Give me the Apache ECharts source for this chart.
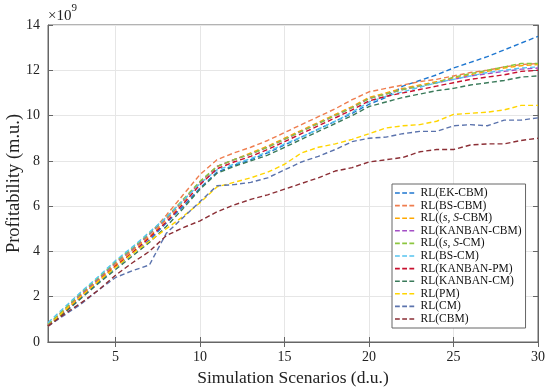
<!DOCTYPE html>
<html>
<head>
<meta charset="utf-8">
<script src="https://cdn.jsdelivr.net/npm/echarts@6/dist/echarts.min.js"></script>
<style>html,body{margin:0;padding:0;background:#fff}#c{width:550px;height:390px}</style>
</head>
<body>
<div id="c"></div>
<script>
const scenarios = [1,2,3,4,5,6,7,8,9,10,11,12,13,14,15,16,17,18,19,20,21,22,23,24,25,26,27,28,29,30];
const xTicks = [5,10,15,20,25,30];
const yTicks = [0,2,4,6,8,10,12,14];
const seriesNames = ['RL(EK-CBM)','RL(BS-CBM)','RL((s, S)-CBM)','RL(KANBAN-CBM)','RL((s, S)-CM)','RL(BS-CM)','RL(KANBAN-PM)','RL(KANBAN-CM)','RL(PM)','RL(CM)','RL(CBM)'];
const seriesColors = ['#1f77d0','#ef7d4e','#ffa800','#a44fc6','#8cc63f','#55c4ef','#c8102e','#3a7a5a','#ffd500','#5b73ad','#8b2e35'];

const ekCbm = [0.72,1.35,2.0,2.65,3.3,3.9,4.5,5.25,6.0,6.8,7.5,7.8,8.05,8.35,8.7,9.05,9.4,9.75,10.1,10.5,10.8,11.3,11.55,11.8,12.1,12.35,12.6,12.9,13.2,13.5];
const bsCbm = [0.75,1.4,2.1,2.75,3.4,4.05,4.75,5.6,6.5,7.4,8.05,8.35,8.6,8.9,9.25,9.6,9.95,10.3,10.7,11.05,11.2,11.35,11.5,11.6,11.75,11.9,12.0,12.15,12.25,12.3];
const sSCbm = [0.75,1.42,2.1,2.75,3.45,4.05,4.65,5.4,6.2,7.05,7.75,8.05,8.35,8.65,9.0,9.35,9.7,10.05,10.4,10.8,11.0,11.2,11.35,11.5,11.65,11.8,11.95,12.1,12.2,12.25];
const kanbanCbm = [0.75,1.45,2.15,2.8,3.5,4.1,4.75,5.45,6.25,7.05,7.75,8.05,8.3,8.6,8.95,9.3,9.65,10.0,10.35,10.75,10.95,11.15,11.3,11.45,11.6,11.75,11.85,11.95,12.05,12.1];
const sSCm = [0.78,1.48,2.2,2.85,3.55,4.15,4.8,5.5,6.3,7.1,7.75,8.05,8.3,8.6,8.95,9.3,9.65,10.0,10.35,10.75,10.95,11.15,11.3,11.45,11.7,11.85,12.0,12.15,12.3,12.3];
const bsCm = [0.85,1.55,2.25,2.9,3.6,4.2,4.85,5.5,6.25,7.0,7.6,7.85,8.1,8.4,8.75,9.05,9.4,9.75,10.15,10.6,10.85,11.05,11.25,11.45,11.6,11.75,11.9,12.0,12.1,12.15];
const kanbanPm = [0.7,1.35,2.05,2.7,3.35,3.95,4.6,5.3,6.1,6.95,7.65,7.95,8.2,8.5,8.85,9.2,9.55,9.9,10.25,10.65,10.85,11.0,11.15,11.3,11.45,11.6,11.7,11.8,11.95,12.0];
const kanbanCm = [0.7,1.3,1.95,2.6,3.2,3.8,4.4,5.1,5.9,6.75,7.45,7.75,8.0,8.25,8.6,8.95,9.3,9.65,10.0,10.4,10.6,10.8,10.95,11.1,11.2,11.35,11.45,11.55,11.7,11.75];
const pm = [0.7,1.4,2.05,2.7,3.3,3.9,4.45,5.0,5.55,6.15,6.85,7.05,7.25,7.5,7.85,8.35,8.6,8.75,8.95,9.2,9.45,9.55,9.6,9.75,10.05,10.1,10.15,10.25,10.45,10.45];
const cm = [0.7,1.2,1.7,2.3,2.85,3.15,3.4,4.8,5.5,6.2,6.9,6.95,7.05,7.25,7.6,7.95,8.2,8.5,8.85,9.0,9.05,9.2,9.3,9.3,9.55,9.6,9.55,9.8,9.8,9.9];
const cbm = [0.7,1.25,1.75,2.3,2.95,3.5,4.0,4.7,5.05,5.35,5.75,6.05,6.3,6.5,6.75,7.0,7.25,7.55,7.7,7.95,8.05,8.15,8.4,8.5,8.5,8.7,8.75,8.75,8.9,9.0];

const seriesValues = [ekCbm,bsCbm,sSCbm,kanbanCbm,sSCm,bsCm,kanbanPm,kanbanCm,pm,cm,cbm];

const FONT = 'Liberation Serif';
const axisCol = '#666';
const dashIcon = 'path://M0,0h6v2h-6z M9,0h6v2h-6z M18,0h6v2h-6z';

const chart = echarts.init(document.getElementById('c'), null, {renderer:'canvas'});

const series = seriesNames.map((n,k)=>({
  name:n, type:'line', xAxisIndex:0, yAxisIndex:0,
  data: scenarios.map((x,i)=>[x, seriesValues[k][i]]),
  showSymbol:false, symbol:'none',
  lineStyle:{color:seriesColors[k], width:1.4, type:[5,3]},
  itemStyle:{color:seriesColors[k]},
  animation:false
}));

function legendFmt(name){
  if(name.indexOf('(s, S)')>=0){
    const rest = name.split('(s, S)')[1];
    return '{n|RL((}{i|s}{n|, }{i|S}{n|' + rest + '}';
  }
  return '{n|' + name + '}';
}

const baseAxis = {
  axisLine:{show:true, lineStyle:{color:axisCol, width:1}},
  axisTick:{show:true, inside:true, length:5, lineStyle:{color:axisCol}},
};

chart.setOption({
  animation:false,
  grid:{left:48, right:12, top:25, bottom:48, show:true, borderColor:axisCol, borderWidth:1, containLabel:false, outerBoundsMode:'none'},
  xAxis:[
    Object.assign({}, baseAxis, {
      type:'value', min:1, max:30, position:'bottom',
      axisTick:{show:true, inside:true, length:5, lineStyle:{color:axisCol}, customValues:xTicks},
      axisLabel:{customValues:xTicks, fontFamily:FONT, fontSize:14, color:'#222', margin:8},
      splitLine:{show:true, lineStyle:{color:'#e6e6e6', width:1}},
      name:'Simulation Scenarios (d.u.)', nameLocation:'middle', nameGap:27, nameMoveOverlap:false,
      nameTextStyle:{fontFamily:FONT, fontSize:17.5, color:'#222'}
    }),
    Object.assign({}, baseAxis, {
      type:'value', min:1, max:30, position:'top',
      axisTick:{show:true, inside:true, length:5, lineStyle:{color:axisCol}, customValues:xTicks},
      axisLabel:{show:false}, splitLine:{show:false}
    })
  ],
  yAxis:[
    Object.assign({}, baseAxis, {
      type:'value', min:0, max:14, interval:2, position:'left',
      axisLabel:{customValues:yTicks, fontFamily:FONT, fontSize:14, color:'#222', margin:8},
      splitLine:{show:true, lineStyle:{color:'#e6e6e6', width:1}},
      name:'Profitability (m.u.)', nameLocation:'middle', nameGap:24, nameMoveOverlap:false,
      nameTextStyle:{fontFamily:FONT, fontSize:18.5, color:'#222'}
    }),
    Object.assign({}, baseAxis, {
      type:'value', min:0, max:14, interval:2, position:'right',
      axisLabel:{show:false}, splitLine:{show:false}
    })
  ],
  legend:{
    orient:'vertical', left:392, top:184,
    backgroundColor:'#fff', borderColor:'#666', borderWidth:1, borderRadius:0,
    padding:[3,4,3,3], itemGap:0.6, itemWidth:22, itemHeight:1.6,
    icon:dashIcon,
    data:seriesNames,
    formatter:legendFmt,
    textStyle:{fontFamily:FONT, fontSize:11.5, color:'#111', lineHeight:12, rich:{
      n:{fontFamily:FONT, fontSize:11.5, color:'#111', lineHeight:12},
      i:{fontFamily:FONT, fontSize:11.5, fontStyle:'italic', color:'#111', lineHeight:12}
    }}
  },
  graphic:[{
    type:'text', left:48, top:3,
    style:{text:'{a|×10}{b|9}', rich:{
      a:{fontFamily:FONT, fontSize:15, fill:'#222', padding:[6,0,0,0]},
      b:{fontFamily:FONT, fontSize:11, fill:'#222', verticalAlign:'top', padding:[0,0,6,0]}
    }}
  }],
  series:series
});
</script>
</body>
</html>
